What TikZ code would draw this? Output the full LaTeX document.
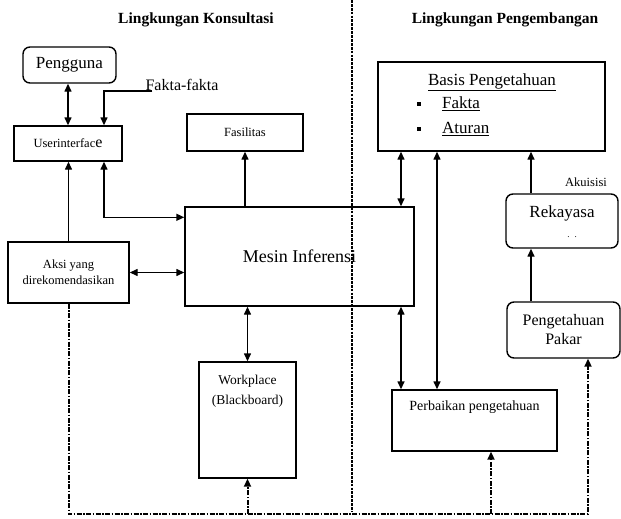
\documentclass[tikz,border=0pt]{standalone}
\usepackage{fontspec}
\setmainfont{LiberationSerif}[Extension=.ttf, UprightFont=*-Regular, BoldFont=*-Bold, ItalicFont=*-Italic, BoldItalicFont=*-BoldItalic]
\usetikzlibrary{arrows.meta,calc}
\newcommand\hurufjudul{\fontsize{15.5}{18}\selectfont\bfseries}
\newcommand\hurufbesar{\fontsize{17}{20}\selectfont}
\newcommand\hurufsedang{\fontsize{14}{18}\selectfont}
\newcommand\hurufkecil{\fontsize{12.5}{16}\selectfont}
\tikzset{
  kotak/.style={draw, line width=1.4pt, inner sep=2pt, align=center},
  kotakbulat/.style={kotak, rounded corners=7pt},
  panah/.style={line width=1.4pt, -{Triangle[length=8pt,width=7pt]}},
  panahdua/.style={line width=1.4pt, {Triangle[length=8pt,width=7pt]}-{Triangle[length=8pt,width=7pt]}},
  panahputus/.style={line width=2pt, dash pattern=on 5pt off 1.5pt on 1.5pt off 1.5pt, -{Triangle[length=8pt,width=7pt]}},
  pembatas/.style={line width=1.5pt, dash pattern=on 2.8pt off 1.1pt}
}
\begin{document}
\begin{tikzpicture}[x=1pt,y=-1pt]
\useasboundingbox (0,0) rectangle (621,519);
% judul kedua lingkungan
\node[font=\hurufjudul] (judulkiri) at (196,20) {Lingkungan Konsultasi};
\node[font=\hurufjudul] (judulkanan) at (505,20) {Lingkungan Pengembangan};
\draw[pembatas] (352,0) -- (352,512);
% lingkungan konsultasi
\node[kotakbulat, minimum width=93, minimum height=36, font=\hurufbesar] (pengguna) at (69.5,65) {Pengguna};
\node[inner sep=0, font=\fontsize{16}{18}\selectfont] (fakta) at (182,85) {Fakta-fakta};
\node[kotak, minimum width=108, minimum height=35, font=\hurufkecil] (ui) at (68,143.5) {Userinterfac{\fontsize{16}{16}\selectfont e}};
\node[kotak, minimum width=116, minimum height=37, font=\hurufkecil] (fasilitas) at (245,132.5) {Fasilitas};
\node[kotak, minimum width=121, minimum height=61, font=\hurufkecil] (aksi) at (68.5,272.5) {Aksi yang\\direkomendasikan};
\node[kotak, minimum width=229, minimum height=99, font=\fontsize{18}{20}\selectfont] (mesin) at (299.5,256.5) {Mesin Inferensi};
\node[kotak, minimum width=97, minimum height=116,
  label={[anchor=north, align=center, inner sep=14pt, font=\fontsize{13.5}{20}\selectfont]north:Workplace\\(Blackboard)}] (workplace) at (247.5,420) {};
% lingkungan pengembangan
\node[kotak, minimum width=227, minimum height=89] (basis) at (491.5,106.5) {};
\node[font=\hurufbesar] (judulbasis) at (492,82) {\underline{Basis Pengetahuan}};
\foreach \isi/\y [count=\i] in {Fakta/104, Aturan/129} {
  \node[fill, minimum size=4.5, inner sep=0] (titik\i) at (419,\y) {};
  \node[font=\hurufbesar, anchor=west, inner sep=0] (butir\i) at (442,\y) {\underline{\isi}};
}
\node[font=\hurufkecil] (akuisisi) at (586,182) {Akuisisi};
\node[kotakbulat, minimum width=112, minimum height=54, font=\hurufbesar,
  label={[anchor=north, inner sep=12pt, font=\hurufbesar]north:Rekayasa}] (rekayasa) at (562,221) {};
\node[font=\fontsize{9}{9}\selectfont] (titiktitik) at (572,237) {.\hspace{5pt}.};
\node[kotakbulat, minimum width=113, minimum height=56, font=\fontsize{16}{19}\selectfont] (pakar) at (563.5,330) {Pengetahuan\\Pakar};
\node[kotak, minimum width=165, minimum height=61,
  label={[anchor=north, inner sep=11pt, font=\hurufsedang]north:Perbaikan pengetahuan}] (perbaikan) at (474.5,420.5) {};
% titik bantu
\coordinate (b1) at ([xshift=-90.5]basis.south);
\coordinate (b2) at ([xshift=-54.5]basis.south);
\coordinate (b3) at ([xshift=39.5]basis.south);
\coordinate (uikanan) at ([xshift=36]ui.south);
\coordinate (bawah) at (68.5,514);
\coordinate (ujung) at ([xshift=24.5]pakar.south |- bawah);
\coordinate (tengah) at ([xshift=16.5]perbaikan.south);
% panah
\draw[panahdua] (ui.north) -- (ui.north |- pengguna.south);
\draw[panah] ([xshift=7pt]fakta.south west) -| ([xshift=36]ui.north);
\draw[panah] (aksi.north) -- (aksi.north |- ui.south);
\draw[panahdua] ([yshift=-11pt]mesin.north west) -| (uikanan);
\draw[panahdua] (aksi.east) -- (aksi.east -| mesin.west);
\draw[panah] (fasilitas.south |- mesin.north) -- (fasilitas.south);
\draw[panahdua] (workplace.north) -- (workplace.north |- mesin.south);
\draw[panahdua] (b1) -- (b1 |- mesin.north);
\draw[panahdua] (b1 |- mesin.south) -- (b1 |- perbaikan.north);
\draw[panahdua] (b2) -- (b2 |- perbaikan.north);
\draw[panah] (b3 |- rekayasa.north) -- (b3);
\draw[panah] (b3 |- pakar.north) -- (b3 |- rekayasa.south);
% jalur putus-putus
\draw[panahputus] (aksi.south) |- (ujung) -- (ujung |- pakar.south);
\draw[panahputus] (workplace.south |- bawah) -- (workplace.south);
\draw[panahputus] (tengah |- bawah) -- (tengah);
\end{tikzpicture}
\end{document}
